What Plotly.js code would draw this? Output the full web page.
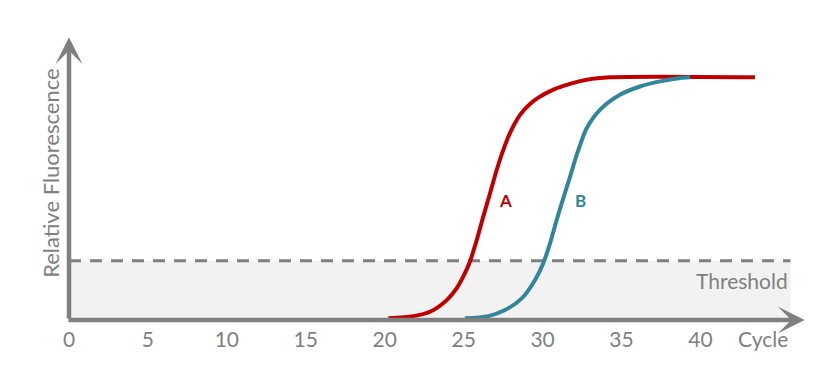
<!DOCTYPE html>
<html>
<head>
<meta charset="utf-8">
<script src="https://cdn.plot.ly/plotly-3.0.1.min.js"></script>
<style>html,body{margin:0;padding:0;background:#fff;}#chart{width:825px;height:375px;}</style>
</head>
<body>
<div id="chart"></div>
<script>
// Data (x = cycle, y = relative fluorescence, plateau = 1)
const cyclesA = [20.23, 21.81, 22.87, 23.93, 24.56, 25.08, 25.40, 25.83, 26.24, 26.67, 27.09, 27.51, 27.93, 28.57, 29.20, 29.73, 30.68, 31.73, 32.79, 34.27, 43.45];
const fluorA  = [0.007, 0.016, 0.034, 0.082, 0.131, 0.193, 0.241, 0.330, 0.426, 0.522, 0.618, 0.701, 0.770, 0.845, 0.890, 0.916, 0.949, 0.973, 0.990, 1.0, 1.0];
const cyclesB = [25.08, 26.56, 27.62, 28.68, 29.52, 30.04, 30.47, 30.89, 31.31, 31.74, 32.16, 32.79, 33.63, 34.90, 36.17, 37.44, 38.71, 39.34];
const fluorB  = [0.007, 0.016, 0.041, 0.089, 0.165, 0.234, 0.316, 0.412, 0.502, 0.591, 0.680, 0.790, 0.866, 0.928, 0.962, 0.983, 0.997, 1.0];
const threshold = 0.244;
const tickValues = [0, 5, 10, 15, 20, 25, 30, 35, 40];
const tickLabels = ['0', '5', '10', '15', '20', '25', '30', '35', '40'];
const seriesNames = ['A', 'B'];
const labelPos = [[27.1, 0.491], [31.9, 0.491]];

const gray = '#808080';
const txt = '#7f7f7f';
const colA = '#C00000';
const colB = '#31859C';
const font = 'Lato, "Open Sans", sans-serif';
const xEnd = 45.7;

const traces = [
  {x: cyclesA, y: fluorA, mode: 'lines', line: {color: colA, width: 4, shape: 'spline', smoothing: 0.8}, name: seriesNames[0], hoverinfo: 'x+y'},
  {x: cyclesB, y: fluorB, mode: 'lines', line: {color: colB, width: 4, shape: 'spline', smoothing: 0.8}, name: seriesNames[1], hoverinfo: 'x+y'}
];

const layout = {
  width: 825, height: 375,
  margin: {l: 69, r: 14, t: 36, b: 55},
  paper_bgcolor: '#fff', plot_bgcolor: 'rgba(0,0,0,0)',
  showlegend: false,
  font: {family: font, color: txt, size: 21},
  xaxis: {
    range: [0, 47], showgrid: false, zeroline: false, showline: false,
    tickvals: tickValues, ticktext: tickLabels, ticks: '', ticklabelstandoff: 5,
    tickfont: {family: font, size: 21, color: txt}, fixedrange: true
  },
  yaxis: {
    range: [0, 1.17], showgrid: false, zeroline: false, showline: false,
    showticklabels: false, ticks: '', fixedrange: true
  },
  shapes: [
    {type: 'rect', xref: 'x', yref: 'y', x0: 0, x1: xEnd, y0: 0, y1: threshold, fillcolor: '#F2F2F2', line: {width: 0}, layer: 'below'},
    {type: 'line', xref: 'x', yref: 'y', x0: 0, x1: xEnd, y0: threshold, y1: threshold, line: {color: gray, width: 3, dash: '12px,9px'}, layer: 'below'}
  ],
  annotations: [
    {xref: 'x', yref: 'y', axref: 'x', ayref: 'y', x: 46.6, y: 0, ax: -0.13, ay: 0, showarrow: true, arrowhead: 3, arrowsize: 1, arrowwidth: 4.5, arrowcolor: gray, text: ''},
    {xref: 'x', yref: 'y', axref: 'x', ayref: 'y', x: 0, y: 1.165, ax: 0, ay: 0, showarrow: true, arrowhead: 3, arrowsize: 1, arrowwidth: 4.5, arrowcolor: gray, text: ''},
    {xref: 'paper', yref: 'y', x: -0.0243, y: 0.606, xanchor: 'center', yanchor: 'middle', textangle: -90, showarrow: false, text: 'Relative Fluorescence', font: {family: font, size: 22, color: txt}},
    {xref: 'x', yref: 'y', x: xEnd, y: threshold, xanchor: 'right', yanchor: 'top', yshift: -5, showarrow: false, text: 'Threshold', font: {family: font, size: 21, color: txt}},
    {xref: 'x', yref: 'paper', x: xEnd, y: 0, xanchor: 'right', yanchor: 'top', yshift: -4, showarrow: false, text: 'Cycle', font: {family: font, size: 21, color: txt}},
    {xref: 'x', yref: 'y', x: labelPos[0][0], y: labelPos[0][1], xanchor: 'left', yanchor: 'middle', showarrow: false, text: '<b>' + seriesNames[0] + '</b>', font: {family: font, size: 17, color: colA}},
    {xref: 'x', yref: 'y', x: labelPos[1][0], y: labelPos[1][1], xanchor: 'left', yanchor: 'middle', showarrow: false, text: '<b>' + seriesNames[1] + '</b>', font: {family: font, size: 17, color: colB}}
  ]
};

Plotly.newPlot('chart', traces, layout, {displayModeBar: false, staticPlot: true});
</script>
</body>
</html>
